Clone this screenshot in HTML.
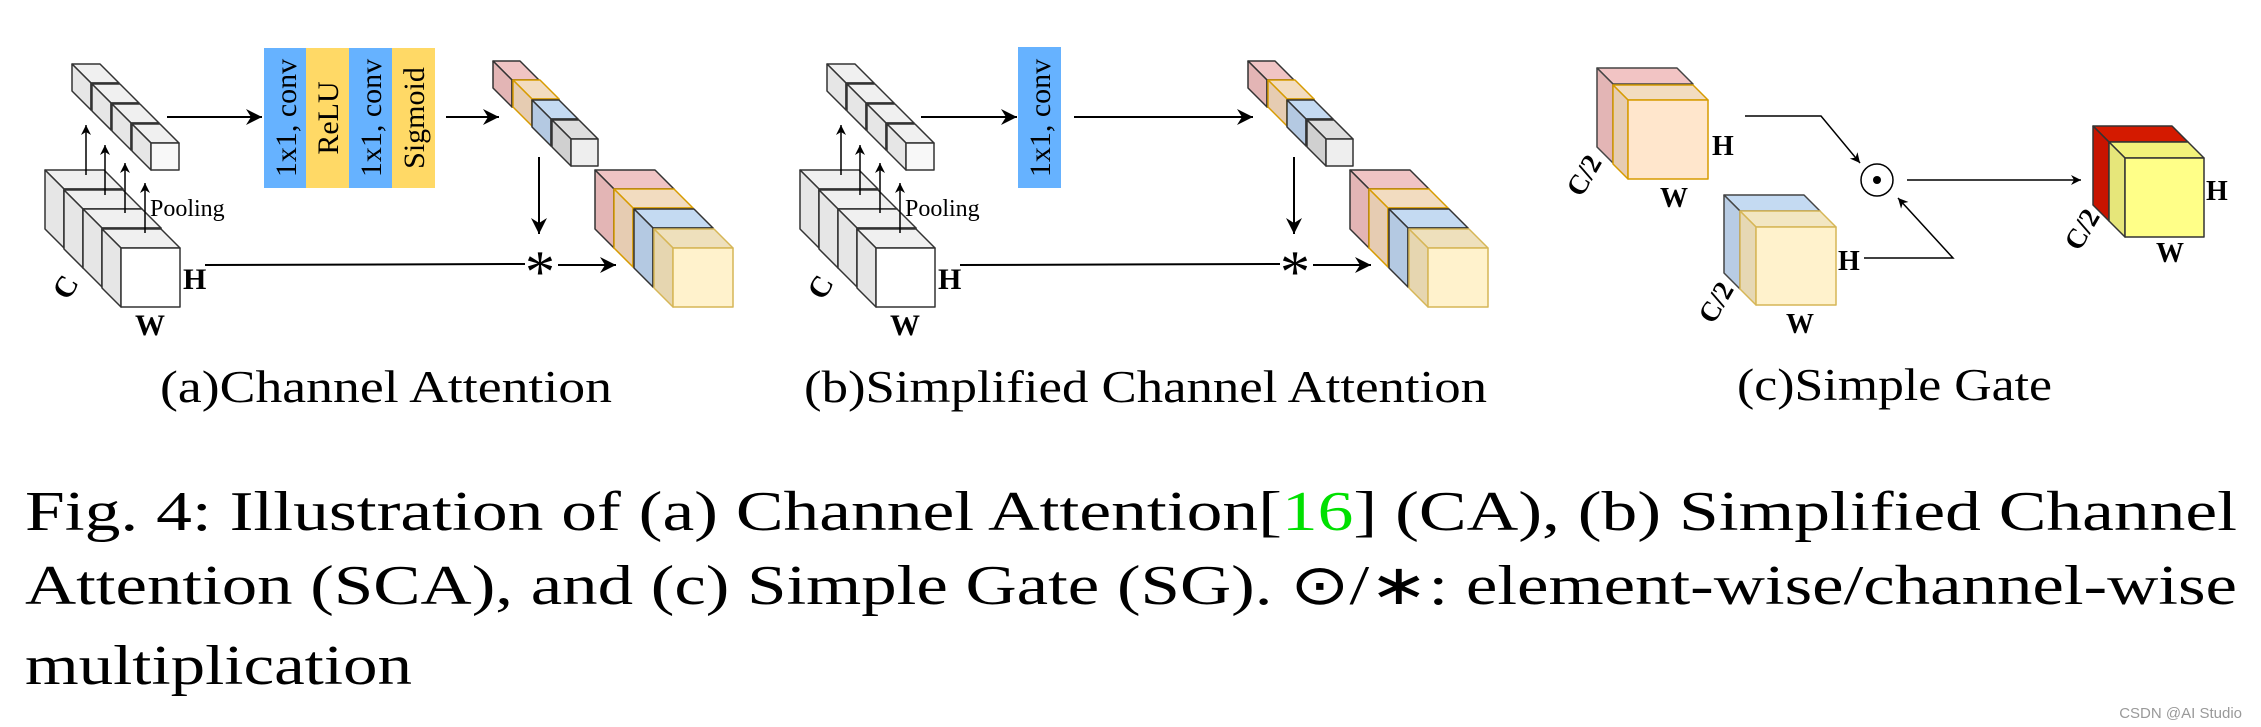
<!DOCTYPE html>
<html><head><meta charset="utf-8"><style>
html,body{margin:0;padding:0;background:#fff;}
svg{display:block;}
text{font-family:"Liberation Serif",serif;fill:#000;}
</style></head><body>
<svg width="2261" height="727" viewBox="0 0 2261 727" xmlns="http://www.w3.org/2000/svg">
<defs>
<marker id="ar" markerUnits="userSpaceOnUse" markerWidth="20" markerHeight="20" refX="16" refY="8" orient="auto">
<path d="M0,0 L16,8 L0,16 L5,8 Z" fill="#000"/>
</marker>
<marker id="as" markerUnits="userSpaceOnUse" markerWidth="12" markerHeight="12" refX="10" refY="5" orient="auto">
<path d="M0,0 L10,5 L0,10 L3,5 Z" fill="#000"/>
</marker>
<g id="left" stroke="#333" stroke-width="1.5" stroke-linejoin="round">
 <g fill="#f0f0f0">
  <polygon points="72,64 100,64 119,83 91,83"/><polygon points="72,64 91,83 91,110 72,91" fill="#e6e6e6"/><rect x="91" y="83" width="28" height="27" fill="#f5f5f5"/>
  <polygon points="92,84 120,84 139,103 111,103"/><polygon points="92,84 111,103 111,130 92,111" fill="#e6e6e6"/><rect x="111" y="103" width="28" height="27" fill="#f5f5f5"/>
  <polygon points="112,104 140,104 159,123 131,123"/><polygon points="112,104 131,123 131,150 112,131" fill="#e6e6e6"/><rect x="131" y="123" width="28" height="27" fill="#f5f5f5"/>
  <polygon points="132,124 160,124 179,143 151,143"/><polygon points="132,124 151,143 151,170 132,151" fill="#e6e6e6"/><rect x="151" y="143" width="28" height="27" fill="#f8f8f8"/>
 </g>
 <g fill="#f0f0f0">
  <polygon points="45,170 104,170 123,189 64,189"/><polygon points="45,170 64,189 64,248 45,229" fill="#e6e6e6"/><rect x="64" y="189" width="59" height="59" fill="#fff"/>
  <polygon points="64,190 123,190 142,209 83,209"/><polygon points="64,190 83,209 83,268 64,249" fill="#e6e6e6"/><rect x="83" y="209" width="59" height="59" fill="#fff"/>
  <polygon points="83,209 142,209 161,228 102,228"/><polygon points="83,209 102,228 102,287 83,268" fill="#e6e6e6"/><rect x="102" y="228" width="59" height="59" fill="#fff"/>
  <polygon points="102,229 161,229 180,248 121,248"/><polygon points="102,229 121,248 121,307 102,288" fill="#e6e6e6"/><rect x="121" y="248" width="59" height="59" fill="#fff"/>
 </g>
 <g stroke="#000" stroke-width="1.5" fill="none">
  <line x1="86" y1="175" x2="86" y2="125" marker-end="url(#as)"/>
  <line x1="105" y1="195" x2="105" y2="145" marker-end="url(#as)"/>
  <line x1="125" y1="213" x2="125" y2="163" marker-end="url(#as)"/>
  <line x1="145" y1="233" x2="145" y2="183" marker-end="url(#as)"/>
 </g>
</g>
<g id="right" stroke-width="1.5" stroke-linejoin="round">
 <g stroke="#333"><polygon points="493,61 520,61 539,80 512,80" fill="#f0c4c4"/><polygon points="493,61 512,80 512,107 493,88" fill="#e3b5b5"/><rect x="512" y="80" width="27" height="27" fill="#f0c4c4"/></g>
 <g stroke="#d79b00"><polygon points="513,80 540,80 559,99 532,99" fill="#f2dcc0"/><polygon points="513,80 532,99 532,126 513,107" fill="#e6ccb2"/><rect x="532" y="99" width="27" height="27" fill="#f2dcc0"/></g>
 <g stroke="#333"><polygon points="532,100 559,100 578,119 551,119" fill="#c4daf2"/><polygon points="532,100 551,119 551,146 532,127" fill="#b4c9e2"/><rect x="551" y="119" width="27" height="27" fill="#c4daf2"/></g>
 <g stroke="#333"><polygon points="552,120 579,120 598,139 571,139" fill="#dedede"/><polygon points="552,120 571,139 571,166 552,147" fill="#d0d0d0"/><rect x="571" y="139" width="27" height="27" fill="#eeeeee"/></g>
 <g stroke="#333"><polygon points="595,170 655,170 674,189 614,189" fill="#f0c4c4"/><polygon points="595,170 614,189 614,248 595,229" fill="#e3b5b5"/><rect x="614" y="189" width="60" height="59" fill="#f0c4c4"/></g>
 <g stroke="#d79b00"><polygon points="614,189 674,189 693,208 633,208" fill="#f2dcc0"/><polygon points="614,189 633,208 633,267 614,248" fill="#e6ccb2"/><rect x="633" y="208" width="60" height="59" fill="#f2dcc0"/></g>
 <g stroke="#333"><polygon points="634,209 694,209 713,228 653,228" fill="#c4daf2"/><polygon points="634,209 653,228 653,287 634,268" fill="#b4c9e2"/><rect x="653" y="228" width="60" height="59" fill="#c4daf2"/></g>
 <g stroke="#d6b656"><polygon points="654,229 714,229 733,248 673,248" fill="#eee0bc"/><polygon points="654,229 673,248 673,307 654,288" fill="#e6d6b0"/><rect x="673" y="248" width="60" height="59" fill="#fff2cc"/></g>
 <g stroke="#000" stroke-width="2" fill="none">
  <line x1="539" y1="157" x2="539" y2="234" marker-end="url(#ar)"/>
  <line x1="205" y1="265" x2="525" y2="264"/>
  <line x1="558" y1="265" x2="616" y2="265" marker-end="url(#ar)"/>
 </g>
 <text x="540" y="292" font-size="60" text-anchor="middle">*</text>
</g>
</defs>

<use href="#left"/>
<use href="#right"/>
<g stroke="#000" stroke-width="2" fill="none">
 <line x1="167" y1="117" x2="262" y2="117" marker-end="url(#ar)"/>
 <line x1="446" y1="117" x2="499" y2="117" marker-end="url(#ar)"/>
</g>
<rect x="264" y="48" width="42" height="140" fill="#66b2ff"/>
<rect x="306" y="48" width="43" height="140" fill="#ffd966"/>
<rect x="349" y="48" width="43" height="140" fill="#66b2ff"/>
<rect x="392" y="48" width="43" height="140" fill="#ffd966"/>
<g font-size="30" text-anchor="middle">
 <text transform="translate(296,118) rotate(-90)">1x1, conv</text>
 <text transform="translate(338,118) rotate(-90)">ReLU</text>
 <text transform="translate(381,118) rotate(-90)">1x1, conv</text>
 <text transform="translate(424,118) rotate(-90)">Sigmoid</text>
</g>
<text x="150" y="216" font-size="24">Pooling</text>
<g font-size="30" font-weight="bold">
 <text transform="translate(74,292) rotate(-60)" text-anchor="middle">C</text>
 <text x="183" y="289">H</text>
 <text x="150" y="335" text-anchor="middle">W</text>
</g>

<use href="#left" transform="translate(755,0)"/>
<use href="#right" transform="translate(755,0)"/>
<g stroke="#000" stroke-width="2" fill="none">
 <line x1="921" y1="117" x2="1017" y2="117" marker-end="url(#ar)"/>
 <line x1="1074" y1="117" x2="1253" y2="117" marker-end="url(#ar)"/>
</g>
<rect x="1018" y="47" width="43" height="141" fill="#66b2ff"/>
<text transform="translate(1050,118) rotate(-90)" font-size="30" text-anchor="middle">1x1, conv</text>
<text x="905" y="216" font-size="24">Pooling</text>
<g font-size="30" font-weight="bold">
 <text transform="translate(829,292) rotate(-60)" text-anchor="middle">C</text>
 <text x="938" y="289">H</text>
 <text x="905" y="335" text-anchor="middle">W</text>
</g>

<g stroke-width="1.5" stroke-linejoin="round">
 <g stroke="#444"><polygon points="1597,68 1677,68 1693,84 1613,84" fill="#f2c4c4"/><polygon points="1597,68 1613,84 1613,163 1597,147" fill="#e3b5b5"/></g>
 <g stroke="#d79b00"><polygon points="1613,85 1693,85 1708,100 1628,100" fill="#f2dcc0"/><polygon points="1613,85 1628,100 1628,179 1613,164" fill="#e6ccb2"/><rect x="1628" y="100" width="80" height="79" fill="#ffe6cc"/></g>
 <g stroke="#444"><polygon points="1724,195 1804,195 1820,211 1740,211" fill="#c4daf2"/><polygon points="1724,195 1740,211 1740,289 1724,273" fill="#b8cce4"/></g>
 <g stroke="#d6b656"><polygon points="1740,211 1820,211 1836,227 1756,227" fill="#f2e6c2"/><polygon points="1740,211 1756,227 1756,305 1740,289" fill="#e6d8b4"/><rect x="1756" y="227" width="80" height="78" fill="#fff2cc"/></g>
 <g stroke="#333"><polygon points="2093,126 2172,126 2188,142 2109,142" fill="#d41a00"/><polygon points="2093,126 2109,142 2109,221 2093,205" fill="#c81400"/></g>
 <g stroke="#333"><polygon points="2109,142 2188,142 2204,158 2125,158" fill="#f2f27a"/><polygon points="2109,142 2125,158 2125,237 2109,221" fill="#e6e67a"/><rect x="2125" y="158" width="79" height="79" fill="#ffff88"/></g>
</g>
<circle cx="1877" cy="180" r="16" fill="none" stroke="#000" stroke-width="1.5"/>
<circle cx="1877" cy="180" r="4" fill="#000"/>
<g stroke="#000" stroke-width="1.5" fill="none">
 <polyline points="1745,116 1821,116 1860,163" marker-end="url(#as)"/>
 <polyline points="1864,258 1953,258 1898,198" marker-end="url(#as)"/>
 <line x1="1907" y1="180" x2="2081" y2="180" marker-end="url(#as)"/>
</g>
<g font-size="28" font-weight="bold">
 <text x="1712" y="155">H</text>
 <text x="1674" y="207" text-anchor="middle">W</text>
 <text transform="translate(1592,180) rotate(-60)" text-anchor="middle">C/2</text>
 <text x="1838" y="270">H</text>
 <text x="1800" y="333" text-anchor="middle">W</text>
 <text transform="translate(1724,307) rotate(-60)" text-anchor="middle">C/2</text>
 <text x="2206" y="200">H</text>
 <text x="2170" y="262" text-anchor="middle">W</text>
 <text transform="translate(2090,234) rotate(-60)" text-anchor="middle">C/2</text>
</g>

<g font-size="45">
 <text x="160" y="402" textLength="452" lengthAdjust="spacingAndGlyphs">(a)Channel Attention</text>
 <text x="804" y="402" textLength="683" lengthAdjust="spacingAndGlyphs">(b)Simplified Channel Attention</text>
 <text x="1737" y="400" textLength="315" lengthAdjust="spacingAndGlyphs">(c)Simple Gate</text>
</g>

<g font-size="56">
 <text x="25" y="530" textLength="2212" lengthAdjust="spacingAndGlyphs">Fig. 4: Illustration of (a) Channel Attention[<tspan style="fill:#00e000">16</tspan>] (CA), (b) Simplified Channel</text>
 <text x="25" y="604" textLength="2212" lengthAdjust="spacingAndGlyphs">Attention (SCA), and (c) Simple Gate (SG). ⊙/∗: element-wise/channel-wise</text>
 <text x="25" y="684" textLength="387" lengthAdjust="spacingAndGlyphs">multiplication</text>
</g>
<text x="2242" y="718" font-size="15" text-anchor="end" style="font-family:'Liberation Sans',sans-serif;fill:#999">CSDN @AI Studio</text>
</svg>
</body></html>
